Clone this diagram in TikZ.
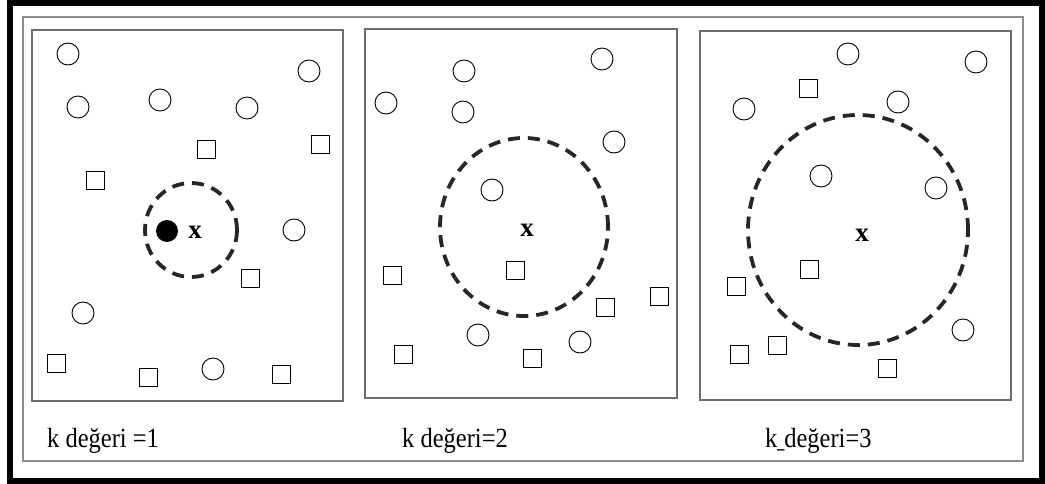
\documentclass[tikz,border=0pt]{standalone}
\usepackage{fontspec}
\setmainfont{Liberation Serif}
\usetikzlibrary{shapes.geometric}
\definecolor{panelgray}{HTML}{6E6E6E}
\definecolor{framegray}{HTML}{8C8C8C}
\definecolor{ringcol}{HTML}{262626}
\begin{document}
\begin{tikzpicture}[x=1pt,y=-1pt,
  circpt/.style={circle,draw=black,line width=0.9pt,minimum size=22pt,inner sep=0pt},
  sqpt/.style={rectangle,draw=black,line width=0.9pt,minimum size=18pt,inner sep=0pt},
  fdot/.style={circle,fill=black,minimum size=22pt,inner sep=0pt},
  panelbox/.style={draw=panelgray,line width=2pt},
  outerframe/.style={draw=framegray,line width=2pt},
  ringnode/.style={ellipse,draw=ringcol,line width=3.8pt,dash pattern=on 12pt off 8pt,inner sep=0pt},
  xlab/.style={font=\fontsize{27}{27}\selectfont\bfseries,inner sep=0pt},
  captxt/.style={anchor=base west,inner sep=0pt,font=\fontsize{24.5}{25}\selectfont}]
\useasboundingbox (0,0) rectangle (1045,484);
% outer black frame
\draw[line width=6pt] (10,3) rectangle (1042,481);
% gray frame
\draw[outerframe] (23,17) rectangle (1023,461);
% panels
\draw[panelbox] (32,30) rectangle (343,401);
\draw[panelbox] (365,29) rectangle (677,398);
\draw[panelbox] (700,31) rectangle (1011,400);

% ---------- panel 1 ----------
\node[circpt] (a1) at (68,54) {};
\node[circpt] (a2) at (309,71) {};
\node[circpt] (a3) at (78,107) {};
\node[circpt] (a4) at (160,100) {};
\node[circpt] (a5) at (247,108) {};
\node[circpt] (a6) at (294,230) {};
\node[circpt] (a7) at (83,313) {};
\node[circpt] (a8) at (213,369) {};
\node[sqpt] (as1) at (206,149) {};
\node[sqpt] (as2) at (320,144) {};
\node[sqpt] (as3) at (95,180) {};
\node[sqpt] (as4) at (250,278) {};
\node[sqpt] (as5) at (56,363) {};
\node[sqpt] (as6) at (148,377) {};
\node[sqpt] (as7) at (281,374) {};
\node[ringnode,minimum width=92pt,minimum height=94pt] (r1) at (191,230) {};
\node[fdot] (d1) at (167,231) {};
\node[xlab] (x1) at (195,232) {x};

% ---------- panel 2 ----------
\node[circpt] (b1) at (602,59) {};
\node[circpt] (b2) at (464,71) {};
\node[circpt] (b3) at (386,103) {};
\node[circpt] (b4) at (463,112) {};
\node[circpt] (b5) at (614,142) {};
\node[circpt] (b6) at (492,190) {};
\node[circpt] (b7) at (478,335) {};
\node[circpt] (b8) at (580,342) {};
\node[sqpt] (bs1) at (392,275) {};
\node[sqpt] (bs2) at (515,270) {};
\node[sqpt] (bs3) at (659,296) {};
\node[sqpt] (bs4) at (605,307) {};
\node[sqpt] (bs5) at (403,354) {};
\node[sqpt] (bs6) at (532,358) {};
\node[ringnode,minimum width=168pt,minimum height=178pt] (r2) at (524,227) {};
\node[xlab] (x2) at (527,230) {x};

% ---------- panel 3 ----------
\node[circpt] (c1) at (848,54) {};
\node[circpt] (c2) at (976,62) {};
\node[circpt] (c3) at (744,109) {};
\node[circpt] (c4) at (898,102) {};
\node[circpt] (c5) at (821,176) {};
\node[circpt] (c6) at (936,188) {};
\node[circpt] (c7) at (963,330) {};
\node[sqpt] (cs1) at (808,88) {};
\node[sqpt] (cs2) at (809,269) {};
\node[sqpt] (cs3) at (736,286) {};
\node[sqpt] (cs4) at (777,345) {};
\node[sqpt] (cs5) at (739,354) {};
\node[sqpt] (cs6) at (887,368) {};
\node[ringnode,minimum width=220pt,minimum height=230pt] (r3) at (858,230) {};
\node[xlab] (x3) at (862,235) {x};

% captions
\node[captxt] (k1) at (47,447) {\scalebox{1}[1.13]{k değeri =1}};
\node[captxt] (k2) at (402,447) {\scalebox{1}[1.13]{k değeri=2}};
\node[captxt] (k3) at (765,447) {\scalebox{1}[1.13]{k\makebox[0.28em]{\scalebox{0.6}[1]{\_}}değeri=3}};
\end{tikzpicture}
\end{document}
